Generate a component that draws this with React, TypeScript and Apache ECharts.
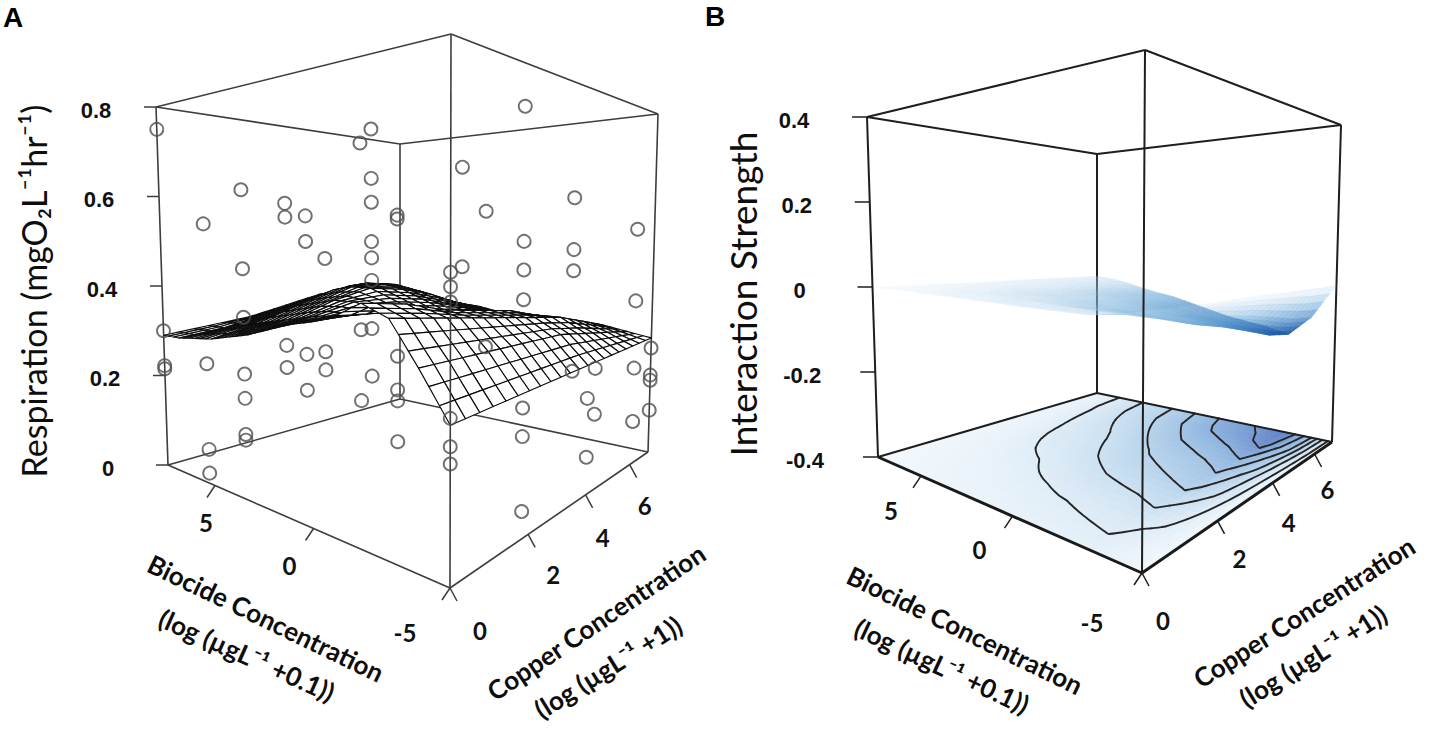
import React, { useEffect, useRef } from "react";
import * as echarts from "echarts";

const W = 1429;
const H = 729;

// ---------------- axes ----------------
const biocideRange = [-5, 8];
const copperRange = [0, 7];
const respirationRange = [0, 0.8];
const interactionRange = [-0.4, 0.4];

const biocideTicks = [5, 0, -5];
const biocideTickLabels = ["5", "0", "-5"];
const copperTicks = [0, 2, 4, 6];
const copperTickLabels = ["0", "2", "4", "6"];
const respirationTicks = [0, 0.2, 0.4, 0.6, 0.8];
const respirationTickLabels = ["0", "0.2", "0.4", "0.6", "0.8"];
const interactionTicks = [-0.4, -0.2, 0, 0.2, 0.4];
const interactionTickLabels = ["-0.4", "-0.2", "0", "0.2", "0.4"];

// ---------------- fitted surfaces (rows: biocide, cols: copper) ----------------
const gridBiocide = [8, 7, 6, 5, 4, 3, 2, 1, 0, -1, -2, -3, -4, -5];
const gridCopper = [0, 1, 2, 3, 4, 5, 6, 7];

const respirationSurface = [
  [0.29, 0.3, 0.31, 0.33, 0.35, 0.36, 0.34, 0.32],
  [0.29, 0.3, 0.32, 0.34, 0.36, 0.37, 0.35, 0.32],
  [0.295, 0.31, 0.33, 0.36, 0.38, 0.38, 0.36, 0.32],
  [0.3, 0.32, 0.35, 0.38, 0.39, 0.38, 0.35, 0.32],
  [0.31, 0.33, 0.36, 0.39, 0.39, 0.37, 0.34, 0.31],
  [0.32, 0.34, 0.37, 0.39, 0.38, 0.36, 0.33, 0.31],
  [0.335, 0.35, 0.37, 0.37, 0.36, 0.34, 0.32, 0.3],
  [0.35, 0.355, 0.36, 0.35, 0.34, 0.33, 0.31, 0.3],
  [0.36, 0.365, 0.36, 0.35, 0.34, 0.32, 0.31, 0.3],
  [0.375, 0.37, 0.36, 0.35, 0.34, 0.32, 0.31, 0.29],
  [0.4, 0.39, 0.37, 0.36, 0.35, 0.33, 0.31, 0.29],
  [0.38, 0.37, 0.36, 0.35, 0.34, 0.33, 0.31, 0.29],
  [0.31, 0.31, 0.31, 0.31, 0.31, 0.3, 0.29, 0.28],
  [0.235, 0.24, 0.245, 0.25, 0.255, 0.26, 0.265, 0.27],
];

const interactionSurface = [
  [-0.001, -0.001, -0.003, -0.004, -0.005, -0.006, -0.007, -0.008],
  [-0.001, -0.003, -0.005, -0.007, -0.008, -0.011, -0.013, -0.014],
  [-0.002, -0.004, -0.008, -0.012, -0.014, -0.018, -0.022, -0.024],
  [-0.004, -0.007, -0.012, -0.018, -0.023, -0.029, -0.035, -0.038],
  [-0.005, -0.009, -0.016, -0.024, -0.03, -0.038, -0.046, -0.05],
  [-0.006, -0.011, -0.019, -0.029, -0.036, -0.046, -0.055, -0.06],
  [-0.008, -0.014, -0.024, -0.036, -0.045, -0.057, -0.069, -0.075],
  [-0.009, -0.016, -0.029, -0.043, -0.054, -0.068, -0.083, -0.09],
  [-0.011, -0.019, -0.034, -0.05, -0.063, -0.08, -0.097, -0.105],
  [-0.012, -0.021, -0.037, -0.055, -0.069, -0.087, -0.106, -0.115],
  [-0.013, -0.023, -0.04, -0.06, -0.075, -0.095, -0.115, -0.125],
  [-0.014, -0.025, -0.045, -0.067, -0.084, -0.106, -0.129, -0.14],
  [-0.009, -0.016, -0.029, -0.043, -0.054, -0.068, -0.083, -0.09],
  [-0.001, -0.001, -0.002, -0.002, -0.003, -0.004, -0.005, -0.005],
];

const contourLevels = [-0.02, -0.04, -0.06, -0.08, -0.1, -0.12];

// ---------------- observations: [biocide, copper, respiration values] ----------------
const respirationObs: [number, number, number[]][] = [
  [8, 0, [0.75, 0.3, 0.215, 0.222]],
  [5.3, 0, [0.536, 0.247, 0.07, 0.021]],
  [3.2, 0, [0.6, 0.447, 0.353, 0.243, 0.196, 0.126, 0.115]],
  [1.1, 0, [0.569, 0.544, 0.312, 0.272]],
  [0.2, 0, [0.545, 0.5, 0.302, 0.239]],
  [-0.6, 0, [0.471, 0.312, 0.281]],
  [-2.4, 0, [0.68, 0.601, 0.563, 0.5, 0.474, 0.438, 0.361, 0.285]],
  [-2, 0, [0.66, 0.357, 0.242]],
  [-3.3, 0, [0.535, 0.541, 0.323, 0.271, 0.254, 0.191]],
  [-5, 0, [0.456, 0.435, 0.413, 0.245, 0.204, 0.179]],
  [-5, 0.25, [0.61, 0.463]],
  [-5, 0.8, [0.547, 0.337]],
  [-5, 1.8, [0.727, 0.5, 0.452, 0.402, 0.22, 0.172, 0.046]],
  [-5, 3.4, [0.582, 0.484, 0.444, 0.254]],
  [-5, 4, [0.19, 0.074]],
  [-5, 4.3, [0.244, 0.152]],
  [-5, 6.1, [0.526, 0.365, 0.214, 0.094]],
  [-5, 7, [0.246, 0.182, 0.17, 0.099]],
];

// ---------------- layout (perspective boxes) ----------------
type Corner = { bot: number[]; top: number[]; w: number };
type Box = { F: Corner; L: Corner; R: Corner; B: Corner };

const boxA: Box = {
  F: { bot: [450, 588], top: [451, 34], w: 1 },
  L: { bot: [168, 465], top: [156, 107], w: 1.5 },
  R: { bot: [648, 452], top: [658, 114], w: 1.63 },
  B: { bot: [400, 399], top: [400, 144], w: 2.13 },
};
const boxB: Box = {
  F: { bot: [1142, 573], top: [1145, 50], w: 1 },
  L: { bot: [878, 457], top: [867, 117], w: 1.54 },
  R: { bot: [1332, 442], top: [1341, 125], w: 1.65 },
  B: { bot: [1097, 393], top: [1097, 154], w: 2.19 },
};

type Proj = (b: number, c: number, z: number) => number[];

function projector(box: Box, zr: number[]): Proj {
  return (b, c, z) => {
    const u = (b - biocideRange[0]) / (biocideRange[1] - biocideRange[0]);
    const v = (c - copperRange[0]) / (copperRange[1] - copperRange[0]);
    const h = (z - zr[0]) / (zr[1] - zr[0]);
    const parts: [Corner, number][] = [
      [box.F, (1 - u) * (1 - v)],
      [box.L, u * (1 - v)],
      [box.R, (1 - u) * v],
      [box.B, u * v],
    ];
    let sx = 0, sy = 0, sw = 0;
    for (const [k, l] of parts) {
      const px = k.bot[0] + (k.top[0] - k.bot[0]) * h;
      const py = k.bot[1] + (k.top[1] - k.bot[1]) * h;
      const ww = l * k.w;
      sx += ww * px;
      sy += ww * py;
      sw += ww;
    }
    return [sx / sw, sy / sw, sw];
  };
}

const cornerBC: Record<string, number[]> = {
  L: [biocideRange[1], copperRange[0]],
  F: [biocideRange[0], copperRange[0]],
  R: [biocideRange[0], copperRange[1]],
  B: [biocideRange[1], copperRange[1]],
};
const backEdges = [
  ["L0", "B0"], ["B0", "R0"], ["L1", "F1"], ["F1", "R1"], ["R1", "B1"],
  ["B1", "L1"], ["L0", "L1"], ["R0", "R1"], ["B0", "B1"],
];
const frontEdges = [["L0", "F0"], ["F0", "R0"], ["F0", "F1"]];

function cornerPt(P: Proj, zr: number[], id: string) {
  const [b, c] = cornerBC[id[0]];
  return P(b, c, id[1] === "1" ? zr[1] : zr[0]);
}

// A surface patch is drawn as bilinear sub-quads of each fitted grid cell
type Field = { bs: number[]; cs: number[]; v: number[][] };

function patches(grid: number[][], n: number): Field {
  const bs: number[] = [];
  const cs: number[] = [];
  for (let i = 0; i < gridBiocide.length - 1; i++)
    for (let s = 0; s < n; s++) bs.push(gridBiocide[i] + ((gridBiocide[i + 1] - gridBiocide[i]) * s) / n);
  bs.push(gridBiocide[gridBiocide.length - 1]);
  for (let j = 0; j < gridCopper.length - 1; j++)
    for (let s = 0; s < n; s++) cs.push(gridCopper[j] + ((gridCopper[j + 1] - gridCopper[j]) * s) / n);
  cs.push(gridCopper[gridCopper.length - 1]);
  const v = bs.map((_, a) =>
    cs.map((__, b) => {
      const i = Math.min(Math.floor(a / n), gridBiocide.length - 2);
      const j = Math.min(Math.floor(b / n), gridCopper.length - 2);
      const fu = a / n - i;
      const fv = b / n - j;
      return (
        grid[i][j] * (1 - fu) * (1 - fv) +
        grid[i + 1][j] * fu * (1 - fv) +
        grid[i][j + 1] * (1 - fu) * fv +
        grid[i + 1][j + 1] * fu * fv
      );
    })
  );
  return { bs, cs, v };
}

type Cell = { pts: number[][]; depth: number; val: number };

function surfaceCells(P: Proj, f: Field, zOf: (v: number) => number): Cell[] {
  const cells: Cell[] = [];
  for (let i = 0; i < f.bs.length - 1; i++) {
    for (let j = 0; j < f.cs.length - 1; j++) {
      const idx = [[i, j], [i, j + 1], [i + 1, j + 1], [i + 1, j]];
      const pts = idx.map(([a, b]) => P(f.bs[a], f.cs[b], zOf(f.v[a][b])));
      const depth = pts.reduce((s, p) => s + p[2], 0) / 4;
      const val = idx.reduce((s, [a, b]) => s + f.v[a][b], 0) / 4;
      cells.push({ pts, depth, val });
    }
  }
  cells.sort((a, b) => b.depth - a.depth);
  return cells;
}

function contourLines(f: Field, level: number): number[][][] {
  const segs: number[][][] = [];
  for (let i = 0; i < f.bs.length - 1; i++) {
    for (let j = 0; j < f.cs.length - 1; j++) {
      const vals = [f.v[i][j], f.v[i][j + 1], f.v[i + 1][j + 1], f.v[i + 1][j]];
      const pos = [
        [f.bs[i], f.cs[j]],
        [f.bs[i], f.cs[j + 1]],
        [f.bs[i + 1], f.cs[j + 1]],
        [f.bs[i + 1], f.cs[j]],
      ];
      const pts: number[][] = [];
      for (let e = 0; e < 4; e++) {
        const a = vals[e], b = vals[(e + 1) % 4];
        if (a < level !== b < level) {
          const t = (level - a) / (b - a);
          const p0 = pos[e], p1 = pos[(e + 1) % 4];
          pts.push([p0[0] + (p1[0] - p0[0]) * t, p0[1] + (p1[1] - p0[1]) * t]);
        }
      }
      if (pts.length === 2) segs.push(pts);
      else if (pts.length === 4) {
        segs.push([pts[0], pts[1]]);
        segs.push([pts[2], pts[3]]);
      }
    }
  }
  const key = (p: number[]) => p[0].toFixed(4) + "," + p[1].toFixed(4);
  const used = segs.map(() => false);
  const lines: number[][][] = [];
  for (let s = 0; s < segs.length; s++) {
    if (used[s]) continue;
    used[s] = true;
    const line = [segs[s][0], segs[s][1]];
    let grown = true;
    while (grown) {
      grown = false;
      for (let t = 0; t < segs.length; t++) {
        if (used[t]) continue;
        const [a, b] = segs[t];
        const head = key(line[0]);
        const tail = key(line[line.length - 1]);
        if (key(a) === tail) line.push(b);
        else if (key(b) === tail) line.push(a);
        else if (key(b) === head) line.unshift(a);
        else if (key(a) === head) line.unshift(b);
        else continue;
        used[t] = true;
        grown = true;
      }
    }
    lines.push(line);
  }
  return lines;
}

function mix(stops: number[][], t: number) {
  const tt = Math.max(0, Math.min(1, t));
  const s = tt * (stops.length - 1);
  const k = Math.min(Math.floor(s), stops.length - 2);
  const f = s - k;
  return stops[k].map((v, i) => Math.round(v + (stops[k + 1][i] - v) * f));
}

const floorStops = [[242, 248, 252], [198, 221, 240], [148, 186, 225], [96, 128, 200]];
const sheetStops = [[200, 225, 242], [105, 166, 214], [28, 90, 168]];

const NUM_FONT = "'Liberation Sans', Arial, sans-serif";
const TITLE_FONT = "Lato, 'Open Sans', 'DejaVu Sans', sans-serif";

type TitleSpec = { text: string; x: number; y: number; rot: number; size: number; weight: string };

const titlesA: TitleSpec[] = [
  { text: "Respiration (mgO₂L⁻¹hr⁻¹)", x: 33, y: 291, rot: 90, size: 34, weight: "normal" },
  { text: "Biocide Concentration", x: 266, y: 618, rot: -25.7, size: 26, weight: "bold" },
  { text: "(log (µgL⁻¹ +0.1))", x: 247, y: 655, rot: -24, size: 26, weight: "bold" },
  { text: "Copper Concentration", x: 596, y: 622, rot: 34, size: 26, weight: "bold" },
  { text: "(log (µgL⁻¹ +1))", x: 608, y: 667, rot: 32, size: 26, weight: "bold" },
];
const titlesB: TitleSpec[] = [
  { text: "Interaction Strength", x: 742, y: 294, rot: 90, size: 37, weight: "normal" },
  { text: "Biocide Concentration", x: 965, y: 630, rot: -26, size: 26, weight: "bold" },
  { text: "(log (µgL⁻¹ +0.1))", x: 942, y: 666, rot: -25, size: 26, weight: "bold" },
  { text: "Copper Concentration", x: 1304, y: 612, rot: 32.5, size: 26, weight: "bold" },
  { text: "(log (µgL⁻¹ +1))", x: 1313, y: 656, rot: 32, size: 26, weight: "bold" },
];

type AxisLayout = {
  zTickLen: number;
  zLabelDx: number;
  biocideOffsets: number[][];
  copperOffsets: number[][];
};
const axisA: AxisLayout = {
  zTickLen: 12,
  zLabelDx: -60,
  biocideOffsets: [[-9, 37], [-24, 37], [-45, 44]],
  copperOffsets: [[30, 42], [25, 40], [17, 43], [15, 41]],
};
const axisB: AxisLayout = {
  zTickLen: 15,
  zLabelDx: -73,
  biocideOffsets: [[-30, 35], [-33, 33], [-50, 49]],
  copperOffsets: [[21, 47], [22, 38], [16, 40], [13, 35]],
};

function buildOption() {
  const PA = projector(boxA, respirationRange);
  const PB = projector(boxB, interactionRange);

  const layer = (id: string, z: number, build: (m: (p: number[]) => number[]) => any[]) => ({
    type: "custom",
    id,
    coordinateSystem: "cartesian2d",
    data: [[0, 0]],
    z,
    silent: true,
    clip: false,
    renderItem: (_params: any, api: any) => ({
      type: "group",
      children: build((p: number[]) => api.coord([p[0], p[1]])),
    }),
  });

  const seg = (m: any, p: number[], q: number[], style: any) => {
    const a = m(p), b = m(q);
    return { type: "line", shape: { x1: a[0], y1: a[1], x2: b[0], y2: b[1] }, style };
  };

  const text = (m: any, p: number[], str: string, style: any, rot = 0) => {
    const a = m(p);
    return {
      type: "text",
      x: a[0],
      y: a[1],
      rotation: (rot * Math.PI) / 180,
      style: { text: str, align: "center", verticalAlign: "middle", fill: "#111", ...style },
    };
  };

  const axes = (m: any, P: Proj, zr: number[], zTicks: number[], zLabels: string[], lay: AxisLayout, lineColor: string) => {
    const out: any[] = [];
    const tickStyle = { stroke: lineColor, lineWidth: 1.5 };
    zTicks.forEach((z, i) => {
      const p = P(biocideRange[1], copperRange[0], z);
      out.push(seg(m, p, [p[0] - lay.zTickLen, p[1]], tickStyle));
      out.push(text(m, [p[0] + lay.zLabelDx, p[1] + 3], zLabels[i], { fontSize: 22, fontWeight: "bold", fontFamily: NUM_FONT }));
    });
    biocideTicks.forEach((b, i) => {
      const p = P(b, copperRange[0], zr[0]);
      out.push(seg(m, p, [p[0] - 8, p[1] + 12], tickStyle));
      const o = lay.biocideOffsets[i];
      out.push(text(m, [p[0] + o[0], p[1] + o[1]], biocideTickLabels[i], { fontSize: 24, fontWeight: "bold", fontFamily: TITLE_FONT }));
    });
    copperTicks.forEach((c, i) => {
      const p = P(biocideRange[0], c, zr[0]);
      out.push(seg(m, p, [p[0] + 7, p[1] + 13], tickStyle));
      const o = lay.copperOffsets[i];
      out.push(text(m, [p[0] + o[0], p[1] + o[1]], copperTickLabels[i], { fontSize: 24, fontWeight: "bold", fontFamily: TITLE_FONT }));
    });
    return out;
  };

  const titles = (m: any, specs: TitleSpec[]) =>
    specs.map((t) => text(m, [t.x, t.y], t.text, { fontSize: t.size, fontWeight: t.weight, fontFamily: TITLE_FONT, fill: "#0d0d0d" }, t.rot));

  // ---- panel A ----
  const meshA = patches(respirationSurface, 3);
  const cellsA = surfaceCells(PA, meshA, (v) => v);
  const pointsA: number[][] = [];
  respirationObs.forEach(([b, c, vals]) =>
    vals.forEach((z) => {
      const p = PA(b, c, z);
      pointsA.push([p[0], p[1]]);
    })
  );

  // ---- panel B ----
  const fieldB = patches(interactionSurface, 4);
  const floorB = surfaceCells(PB, fieldB, () => interactionRange[0]);
  const sheetB = surfaceCells(PB, fieldB, (v) => v);

  const lineA = { stroke: "#3d3d3d", lineWidth: 1.6 };
  const lineB = { stroke: "#1e1e1e", lineWidth: 2 };

  const series: any[] = [
    layer("A-back", 1, (m) => backEdges.map(([p, q]) => seg(m, cornerPt(PA, respirationRange, p), cornerPt(PA, respirationRange, q), lineA))),
    layer("A-surface", 2, (m) =>
      cellsA.map((cell) => ({
        type: "polygon",
        shape: { points: cell.pts.map((p) => m(p)) },
        style: { fill: "#ffffff", stroke: "#0c0c0c", lineWidth: 1.15, lineJoin: "round" },
      }))
    ),
    layer("A-front", 3, (m) => [
      ...frontEdges.map(([p, q]) => seg(m, cornerPt(PA, respirationRange, p), cornerPt(PA, respirationRange, q), lineA)),
      ...axes(m, PA, respirationRange, respirationTicks, respirationTickLabels, axisA, "#3d3d3d"),
      ...titles(m, titlesA),
      text(m, [13, 17], "A", { fontSize: 28, fontWeight: "bold", fontFamily: "'Liberation Sans', Arial, sans-serif", fill: "#000" }),
    ]),
    {
      type: "scatter",
      id: "A-points",
      z: 4,
      silent: true,
      symbol: "circle",
      symbolSize: 13,
      itemStyle: { color: "rgba(255,255,255,0)", borderColor: "#4d4d4d", borderWidth: 1.9 },
      data: pointsA,
    },
    layer("B-floor", 1, (m) =>
      floorB.map((cell) => {
        const col = mix(floorStops, -cell.val / 0.14);
        const fill = `rgb(${col[0]},${col[1]},${col[2]})`;
        return { type: "polygon", shape: { points: cell.pts.map((p) => m(p)) }, style: { fill, stroke: fill, lineWidth: 0.8 } };
      })
    ),
    layer("B-contours", 2, (m) => {
      const out: any[] = [];
      contourLevels.forEach((lv) => {
        contourLines(fieldB, lv).forEach((ln) => {
          out.push({
            type: "polyline",
            shape: { points: ln.map(([b, c]) => m(PB(b, c, interactionRange[0]))), smooth: 0.2 },
            style: { stroke: "#262626", lineWidth: 1.9, fill: null, lineJoin: "round", lineCap: "round" },
          });
        });
      });
      return out;
    }),
    layer("B-back", 3, (m) => backEdges.map(([p, q]) => seg(m, cornerPt(PB, interactionRange, p), cornerPt(PB, interactionRange, q), lineB))),
    layer("B-surface", 4, (m) =>
      sheetB.map((cell) => {
        const t = -cell.val / 0.13;
        const col = mix(sheetStops, t);
        const a = Math.min(0.95, 0.05 + 0.9 * Math.pow(Math.max(0, Math.min(1, t)), 0.7));
        const fill = `rgba(${col[0]},${col[1]},${col[2]},${a.toFixed(3)})`;
        return { type: "polygon", shape: { points: cell.pts.map((p) => m(p)) }, style: { fill, stroke: fill, lineWidth: 0.3 } };
      })
    ),
    layer("B-front", 5, (m) => [
      seg(m, cornerPt(PB, interactionRange, "L0"), cornerPt(PB, interactionRange, "F0"), { stroke: "#1a1a1a", lineWidth: 3 }),
      seg(m, cornerPt(PB, interactionRange, "F0"), cornerPt(PB, interactionRange, "R0"), { stroke: "#1a1a1a", lineWidth: 3 }),
      seg(m, cornerPt(PB, interactionRange, "F0"), cornerPt(PB, interactionRange, "F1"), lineB),
      ...axes(m, PB, interactionRange, interactionTicks, interactionTickLabels, axisB, "#1e1e1e"),
      ...titles(m, titlesB),
      text(m, [715, 16], "B", { fontSize: 28, fontWeight: "bold", fontFamily: "'Liberation Sans', Arial, sans-serif", fill: "#000" }),
    ]),
  ];

  return {
    animation: false,
    backgroundColor: "#ffffff",
    grid: { left: 0, right: 0, top: 0, bottom: 0, containLabel: false },
    xAxis: { type: "value", min: 0, max: W, show: false },
    yAxis: { type: "value", min: 0, max: H, inverse: true, show: false },
    series,
  };
}

export default function App() {
  const ref = useRef<HTMLDivElement>(null);
  useEffect(() => {
    if (!ref.current) return;
    const chart = echarts.init(ref.current, null, { renderer: "svg" });
    chart.setOption(buildOption() as any);
    return () => chart.dispose();
  }, []);
  return (
    <div
      ref={ref}
      style={{ position: "fixed", left: 0, top: 0, width: W + "px", height: H + "px", background: "#fff" }}
    />
  );
}
